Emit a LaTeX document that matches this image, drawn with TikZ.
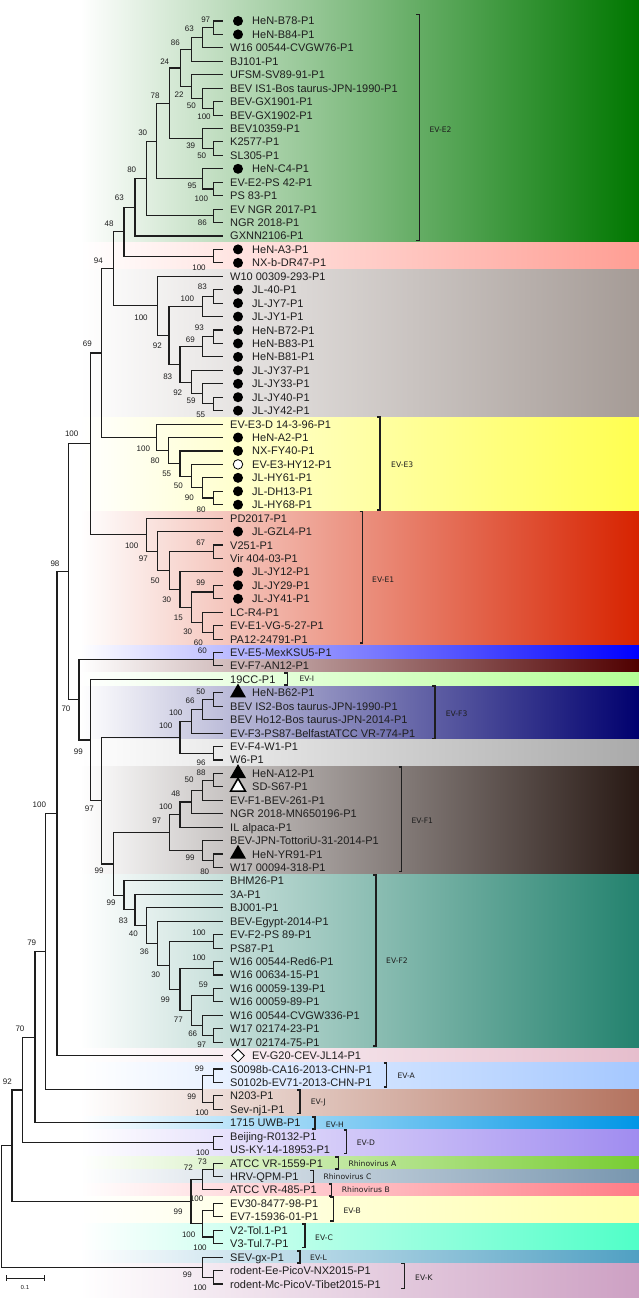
\documentclass[tikz,border=0pt]{standalone}
\usepackage{fontspec}
\setmainfont{Liberation Sans}
\newfontfamily\cladefont{DejaVu Sans}
\usetikzlibrary{calc,shapes.geometric}
\definecolor{cE2}{RGB}{0,119,0}
\definecolor{cPk}{RGB}{255,158,148}
\definecolor{cGy}{RGB}{165,155,150}
\definecolor{cYe}{RGB}{255,255,80}
\definecolor{cRd}{RGB}{215,35,0}
\definecolor{cBl}{RGB}{0,0,255}
\definecolor{cDr}{RGB}{80,0,0}
\definecolor{cLg}{RGB}{180,255,150}
\definecolor{cNv}{RGB}{0,0,110}
\definecolor{cLy}{RGB}{170,170,170}
\definecolor{cDb}{RGB}{40,25,20}
\definecolor{cTl}{RGB}{35,130,110}
\definecolor{cPp}{RGB}{230,190,205}
\definecolor{cLb}{RGB}{165,200,255}
\definecolor{cBr}{RGB}{180,115,95}
\definecolor{cSb}{RGB}{0,150,230}
\definecolor{cLv}{RGB}{160,140,240}
\definecolor{cGr}{RGB}{120,205,50}
\definecolor{cGb}{RGB}{120,150,175}
\definecolor{cRp}{RGB}{255,125,135}
\definecolor{cPy}{RGB}{255,255,170}
\definecolor{cAq}{RGB}{80,255,200}
\definecolor{cBg}{RGB}{80,160,195}
\definecolor{cMv}{RGB}{205,160,195}
\definecolor{ink}{RGB}{30,30,30}
\newcommand\tn[4]{%
  \path ($(#3)!.5!(#4)$) coordinate (m#1);
  \coordinate (#1) at (#2,0 |- m#1);
  \draw[br] (#3) -| (#1) |- (#4);}
\newcommand\leafp[2]{%
  \coordinate (t#1) at (222.3,{21+(#1-1)*13.436});
  \node[lbl] (l#1) at (230,{21+(#1-1)*13.436+4}) {#2};}
\newcommand\leafm[3]{%
  \coordinate (t#1) at (222.3,{21+(#1-1)*13.436});
  \node[#2] (k#1) at (238,{21+(#1-1)*13.436}) {};
  \node[lbl] (l#1) at (252,{21+(#1-1)*13.436+4}) {#3};}
\newcommand\band[3]{\shade[left color=white,right color=#3] (80,#1) rectangle (639,#2);}
\newcommand\brk[3]{\draw[brkt] ({#1-3},#2) -- (#1,#2) -- (#1,#3) -- ({#1-3},#3);}
\begin{document}
\begin{tikzpicture}[x=1pt,y=-1pt,
  br/.style={draw=ink,line width=1.1pt,line cap=rect},
  brkt/.style={draw=ink,line width=1.1pt},
  lbl/.style={anchor=base west,inner sep=0pt,text=ink,font=\fontsize{11}{11}\selectfont},
  bs/.style={inner sep=0pt,text=ink,font=\fontsize{8}{8}\selectfont},
  cl/.style={anchor=west,inner sep=0pt,text=ink,font=\cladefont\fontsize{7.6}{7.6}\selectfont},
  dot/.style={circle,fill=black,minimum size=10pt,inner sep=0pt},
  odot/.style={circle,draw=black,fill=white,line width=0.8pt,minimum size=9.5pt,inner sep=0pt},
  tri/.style={regular polygon,regular polygon sides=3,fill=black,minimum size=18.5pt,inner sep=0pt},
  otri/.style={regular polygon,regular polygon sides=3,draw=black,fill=white,line width=1.6pt,minimum size=17pt,inner sep=0pt},
  dia/.style={diamond,draw=black,fill=white,line width=0.8pt,minimum size=13pt,inner sep=0pt}]
\useasboundingbox (0,0) rectangle (639,1298);
\fill[white] (0,0) rectangle (639,1298);
% bands
\band{0}{242.69}{cE2}
\band{242.69}{269.56}{cPk}
\band{269.56}{417.36}{cGy}
\band{417.36}{511.41}{cYe}
\band{511.41}{645.77}{cRd}
\band{645.77}{659.20}{cBl}
\band{659.20}{672.64}{cDr}
\band{672.64}{686.08}{cLg}
\band{686.08}{739.82}{cNv}
\band{739.82}{766.70}{cLy}
\band{766.70}{874.19}{cDb}
\band{874.19}{1048.86}{cTl}
\band{1048.86}{1062.29}{cPp}
\band{1062.29}{1089.16}{cLb}
\band{1089.16}{1116.04}{cBr}
\band{1116.04}{1129.47}{cSb}
\band{1129.47}{1156.34}{cLv}
\band{1156.34}{1169.78}{cGr}
\band{1169.78}{1183.22}{cGb}
\band{1183.22}{1196.65}{cRp}
\band{1196.65}{1223.52}{cPy}
\band{1223.52}{1250.40}{cAq}
\band{1250.40}{1263.83}{cBg}
\band{1263.83}{1298}{cMv}
% leaves
\leafm{1}{dot}{HeN-B78-P1}
\leafm{2}{dot}{HeN-B84-P1}
\leafp{3}{W16 00544-CVGW76-P1}
\leafp{4}{BJ101-P1}
\leafp{5}{UFSM-SV89-91-P1}
\leafp{6}{BEV IS1-Bos taurus-JPN-1990-P1}
\leafp{7}{BEV-GX1901-P1}
\leafp{8}{BEV-GX1902-P1}
\leafp{9}{BEV10359-P1}
\leafp{10}{K2577-P1}
\leafp{11}{SL305-P1}
\leafm{12}{dot}{HeN-C4-P1}
\leafp{13}{EV-E2-PS 42-P1}
\leafp{14}{PS 83-P1}
\leafp{15}{EV NGR 2017-P1}
\leafp{16}{NGR 2018-P1}
\leafp{17}{GXNN2106-P1}
\leafm{18}{dot}{HeN-A3-P1}
\leafm{19}{dot}{NX-b-DR47-P1}
\leafp{20}{W10 00309-293-P1}
\leafm{21}{dot}{JL-40-P1}
\leafm{22}{dot}{JL-JY7-P1}
\leafm{23}{dot}{JL-JY1-P1}
\leafm{24}{dot}{HeN-B72-P1}
\leafm{25}{dot}{HeN-B83-P1}
\leafm{26}{dot}{HeN-B81-P1}
\leafm{27}{dot}{JL-JY37-P1}
\leafm{28}{dot}{JL-JY33-P1}
\leafm{29}{dot}{JL-JY40-P1}
\leafm{30}{dot}{JL-JY42-P1}
\leafp{31}{EV-E3-D 14-3-96-P1}
\leafm{32}{dot}{HeN-A2-P1}
\leafm{33}{dot}{NX-FY40-P1}
\leafm{34}{odot}{EV-E3-HY12-P1}
\leafm{35}{dot}{JL-HY61-P1}
\leafm{36}{dot}{JL-DH13-P1}
\leafm{37}{dot}{JL-HY68-P1}
\leafp{38}{PD2017-P1}
\leafm{39}{dot}{JL-GZL4-P1}
\leafp{40}{V251-P1}
\leafp{41}{Vir 404-03-P1}
\leafm{42}{dot}{JL-JY12-P1}
\leafm{43}{dot}{JL-JY29-P1}
\leafm{44}{dot}{JL-JY41-P1}
\leafp{45}{LC-R4-P1}
\leafp{46}{EV-E1-VG-5-27-P1}
\leafp{47}{PA12-24791-P1}
\leafp{48}{EV-E5-MexKSU5-P1}
\leafp{49}{EV-F7-AN12-P1}
\leafp{50}{19CC-P1}
\leafm{51}{tri}{HeN-B62-P1}
\leafp{52}{BEV IS2-Bos taurus-JPN-1990-P1}
\leafp{53}{BEV Ho12-Bos taurus-JPN-2014-P1}
\leafp{54}{EV-F3-PS87-BelfastATCC VR-774-P1}
\leafp{55}{EV-F4-W1-P1}
\leafp{56}{W6-P1}
\leafm{57}{tri}{HeN-A12-P1}
\leafm{58}{otri}{SD-S67-P1}
\leafp{59}{EV-F1-BEV-261-P1}
\leafp{60}{NGR 2018-MN650196-P1}
\leafp{61}{IL alpaca-P1}
\leafp{62}{BEV-JPN-TottoriU-31-2014-P1}
\leafm{63}{tri}{HeN-YR91-P1}
\leafp{64}{W17 00094-318-P1}
\leafp{65}{BHM26-P1}
\leafp{66}{3A-P1}
\leafp{67}{BJ001-P1}
\leafp{68}{BEV-Egypt-2014-P1}
\leafp{69}{EV-F2-PS 89-P1}
\leafp{70}{PS87-P1}
\leafp{71}{W16 00544-Red6-P1}
\leafp{72}{W16 00634-15-P1}
\leafp{73}{W16 00059-139-P1}
\leafp{74}{W16 00059-89-P1}
\leafp{75}{W16 00544-CVGW336-P1}
\leafp{76}{W17 02174-23-P1}
\leafp{77}{W17 02174-75-P1}
\leafm{78}{dia}{EV-G20-CEV-JL14-P1}
\leafp{79}{S0098b-CA16-2013-CHN-P1}
\leafp{80}{S0102b-EV71-2013-CHN-P1}
\leafp{81}{N203-P1}
\leafp{82}{Sev-nj1-P1}
\leafp{83}{1715 UWB-P1}
\leafp{84}{Beijing-R0132-P1}
\leafp{85}{US-KY-14-18953-P1}
\leafp{86}{ATCC VR-1559-P1}
\leafp{87}{HRV-QPM-P1}
\leafp{88}{ATCC VR-485-P1}
\leafp{89}{EV30-8477-98-P1}
\leafp{90}{EV7-15936-01-P1}
\leafp{91}{V2-Tol.1-P1}
\leafp{92}{V3-Tul.7-P1}
\leafp{93}{SEV-gx-P1}
\leafp{94}{rodent-Ee-PicoV-NX2015-P1}
\leafp{95}{rodent-Mc-PicoV-Tibet2015-P1}
% internal nodes
\tn{A1}{213.3}{t1}{t2}
\tn{A2}{202.7}{A1}{t3}
\tn{A3}{191.7}{A2}{t4}
\tn{B1}{213.3}{t7}{t8}
\tn{B2}{202.7}{t6}{B1}
\tn{B3}{191.7}{t5}{B2}
\tn{A4}{180.3}{A3}{B3}
\tn{C1}{213.3}{t10}{t11}
\tn{C2}{202.7}{t9}{C1}
\tn{A5}{169.3}{A4}{C2}
\tn{D1}{213.3}{t13}{t14}
\tn{D2}{202.7}{t12}{D1}
\tn{A6}{156.7}{A5}{D2}
\tn{E1}{213.3}{t15}{t16}
\tn{A7}{146.7}{A6}{E1}
\tn{A8}{135}{A7}{t17}
\tn{F1}{213.3}{t18}{t19}
\tn{A9}{124}{A8}{F1}
\tn{G1a}{213.3}{t21}{t22}
\tn{G1}{202.3}{G1a}{t23}
\tn{G2a1}{213.3}{t24}{t25}
\tn{G2a}{202.3}{G2a1}{t26}
\tn{G2b2}{213.3}{t29}{t30}
\tn{G2b1}{202.3}{t28}{G2b2}
\tn{G2b}{191.7}{t27}{G2b1}
\tn{G2}{180}{G2a}{G2b}
\tn{G3}{169}{G1}{G2}
\tn{G4}{157.3}{t20}{G3}
\tn{A10}{113.3}{A9}{G4}
\tn{N1}{213.3}{t36}{t37}
\tn{N2}{202.7}{t35}{N1}
\tn{N3}{191.7}{t34}{N2}
\tn{N4}{180}{t33}{N3}
\tn{N5}{168.3}{t32}{N4}
\tn{N6}{156.7}{t31}{N5}
\tn{A11}{101.7}{A10}{N6}
\tn{P1}{213.3}{t40}{t41}
\tn{P2}{213.3}{t43}{t44}
\tn{P4}{213.3}{t46}{t47}
\tn{P5}{202.7}{t45}{P4}
\tn{P6}{191.7}{P2}{P5}
\tn{P7}{180}{t42}{P6}
\tn{P8}{169.3}{P1}{P7}
\tn{P9}{157.3}{t39}{P8}
\tn{P10}{146.7}{t38}{P9}
\tn{A12}{90.7}{A11}{P10}
\tn{H1}{213.3}{t48}{t49}
\tn{I1}{213.3}{t51}{t52}
\tn{I2}{202.7}{I1}{t53}
\tn{I3}{191.7}{I2}{t54}
\tn{I4}{213.3}{t55}{t56}
\tn{I5}{180}{I3}{I4}
\tn{J1}{213.3}{t57}{t58}
\tn{J2}{202.7}{J1}{t59}
\tn{J3}{191.7}{J2}{t60}
\tn{J4}{180}{J3}{t61}
\tn{J5}{213.3}{t63}{t64}
\tn{J6}{202.7}{t62}{J5}
\tn{J7}{169.3}{J4}{J6}
\tn{K1}{213.3}{t69}{t70}
\tn{K2}{213.3}{t71}{t72}
\tn{K3}{213.3}{t73}{t74}
\tn{K4}{213.3}{t76}{t77}
\tn{K5}{202.7}{t75}{K4}
\tn{K6}{191.7}{K3}{K5}
\tn{K7}{180}{K2}{K6}
\tn{K8}{169.3}{K1}{K7}
\tn{K9}{157.3}{t68}{K8}
\tn{K10}{146.7}{t67}{K9}
\tn{K11}{135}{t66}{K10}
\tn{K12}{124}{t65}{K11}
\tn{A18}{113.3}{J7}{K12}
\tn{A17}{101.7}{I5}{A18}
\tn{A16}{90.7}{t50}{A17}
\tn{A15}{79}{H1}{A16}
\tn{A13}{68.3}{A12}{A15}
\tn{A14}{57}{A13}{t78}
\tn{Q1}{213.3}{t79}{t80}
\tn{Q2}{213.3}{t81}{t82}
\tn{X}{202.5}{Q1}{Q2}
\tn{A19}{45.3}{A14}{X}
\tn{A20}{35}{A19}{t83}
\tn{R1}{213.3}{t84}{t85}
\tn{A21}{22.7}{A20}{R1}
\tn{L1}{213.3}{t86}{t87}
\tn{L2}{202.3}{L1}{t88}
\tn{L3}{213.3}{t89}{t90}
\tn{L4}{213.3}{t91}{t92}
\tn{L5}{202.3}{L3}{L4}
\tn{L6}{191}{L2}{L5}
\tn{A23}{12}{A21}{L6}
\tn{M1}{213.3}{t94}{t95}
\tn{M2}{202.3}{t93}{M1}
\tn{ROOT}{1.2}{A23}{M2}
% bootstrap values
\node[bs] (b1) at (205.7,19.3) {97};
\node[bs] (b2) at (189.3,28.3) {63};
\node[bs] (b3) at (175.3,42.7) {86};
\node[bs] (b4) at (164.7,61.7) {24};
\node[bs] (b5) at (179,95) {22};
\node[bs] (b6) at (191.3,106) {50};
\node[bs] (b7) at (204,117) {100};
\node[bs] (b8) at (155,95.7) {78};
\node[bs] (b9) at (142.7,132.7) {30};
\node[bs] (b10) at (190.7,145.3) {39};
\node[bs] (b11) at (201.7,156) {50};
\node[bs] (b12) at (131.7,170) {80};
\node[bs] (b13) at (192,185.7) {95};
\node[bs] (b14) at (201.3,199) {100};
\node[bs] (b15) at (119.3,198) {63};
\node[bs] (b16) at (202.3,222.5) {86};
\node[bs] (b17) at (109,224) {48};
\node[bs] (b18) at (199,267.7) {100};
\node[bs] (b19) at (98.3,260.7) {94};
\node[bs] (b20) at (202.3,286.7) {83};
\node[bs] (b21) at (187.3,298.3) {100};
\node[bs] (b22) at (141,317.3) {100};
\node[bs] (b23) at (199.3,327.3) {93};
\node[bs] (b24) at (190.3,339.7) {69};
\node[bs] (b25) at (157.3,346) {92};
\node[bs] (b26) at (167.7,377) {83};
\node[bs] (b27) at (177.7,392.7) {92};
\node[bs] (b28) at (191,400.7) {59};
\node[bs] (b29) at (200.7,414.3) {55};
\node[bs] (b30) at (87.3,343.3) {69};
\node[bs] (b31) at (71.7,434.2) {100};
\node[bs] (b32) at (143.3,448.3) {100};
\node[bs] (b33) at (155,461) {80};
\node[bs] (b34) at (166.7,473.3) {55};
\node[bs] (b35) at (178.3,486) {50};
\node[bs] (b36) at (189.3,497.3) {90};
\node[bs] (b37) at (201,509.3) {80};
\node[bs] (b38) at (131.7,546) {100};
\node[bs] (b39) at (143.3,558.3) {97};
\node[bs] (b40) at (200.7,542.7) {67};
\node[bs] (b41) at (155,580.7) {50};
\node[bs] (b42) at (200.7,582.7) {99};
\node[bs] (b43) at (166.7,599.3) {30};
\node[bs] (b44) at (178.3,617.7) {15};
\node[bs] (b45) at (187.7,631.7) {30};
\node[bs] (b46) at (198.3,642.3) {60};
\node[bs] (b47) at (55,564) {98};
\node[bs] (b48) at (202.3,651.2) {60};
\node[bs] (b49) at (66,708.3) {70};
\node[bs] (b50) at (200.7,691.7) {50};
\node[bs] (b51) at (190,700.7) {66};
\node[bs] (b52) at (175.7,712.3) {100};
\node[bs] (b53) at (165.7,726) {100};
\node[bs] (b54) at (201,762.7) {96};
\node[bs] (b55) at (78.3,751.7) {99};
\node[bs] (b56) at (201,772.7) {88};
\node[bs] (b57) at (189,780) {50};
\node[bs] (b58) at (175.7,793.3) {48};
\node[bs] (b59) at (165.7,806.7) {100};
\node[bs] (b60) at (156.7,821) {97};
\node[bs] (b61) at (190,857.7) {99};
\node[bs] (b62) at (204.7,872) {80};
\node[bs] (b63) at (89.3,808.3) {97};
\node[bs] (b64) at (39.3,805) {100};
\node[bs] (b65) at (99,871) {99};
\node[bs] (b66) at (111,902.3) {99};
\node[bs] (b67) at (123.3,920.7) {83};
\node[bs] (b68) at (133.3,934) {40};
\node[bs] (b69) at (144.3,951.7) {36};
\node[bs] (b70) at (155.7,974.3) {30};
\node[bs] (b71) at (199,932.7) {100};
\node[bs] (b72) at (199,957.7) {100};
\node[bs] (b73) at (165.3,1000) {99};
\node[bs] (b74) at (203.3,985) {59};
\node[bs] (b75) at (178.3,1020) {77};
\node[bs] (b76) at (192.7,1033.7) {66};
\node[bs] (b77) at (201.7,1044.3) {97};
\node[bs] (b78) at (31.7,942.7) {79};
\node[bs] (b79) at (20,1028.3) {70};
\node[bs] (b80) at (7.3,1081.5) {92};
\node[bs] (b81) at (199.3,1068.7) {99};
\node[bs] (b82) at (191.7,1096.7) {99};
\node[bs] (b83) at (202,1113) {100};
\node[bs] (b84) at (202.7,1153) {100};
\node[bs] (b85) at (202.3,1161.7) {73};
\node[bs] (b86) at (188.3,1167.7) {72};
\node[bs] (b87) at (196.7,1199) {100};
\node[bs] (b88) at (178,1211.7) {99};
\node[bs] (b89) at (188.7,1234.3) {100};
\node[bs] (b90) at (200,1247.7) {100};
\node[bs] (b91) at (187.3,1274.3) {99};
\node[bs] (b92) at (200,1287.3) {100};
% clade brackets and labels
\brk{419.3}{14.7}{240.7}   \node[cl] (cE2) at (429.3,129.3) {EV-E2};
\brk{380}{417}{510}        \node[cl] (cE3) at (391,465) {EV-E3};
\brk{362.7}{511.5}{643}    \node[cl] (cE1) at (372,579.7) {EV-E1};
\brk{287.3}{673}{685}      \node[cl] (cI) at (299.3,679) {EV-I};
\brk{435}{686}{738.5}      \node[cl] (cF3) at (445.7,713.7) {EV-F3};
\brk{401.7}{767}{871.5}    \node[cl] (cF1) at (411.3,821) {EV-F1};
\brk{376}{875}{1046}       \node[cl] (cF2) at (386,961) {EV-F2};
\brk{386.7}{1063}{1087}    \node[cl] (cA) at (397.3,1076) {EV-A};
\brk{300}{1090}{1113.5}    \node[cl] (cJ) at (310.7,1102.7) {EV-J};
\brk{315}{1117}{1129}      \node[cl] (cH) at (325.7,1124.3) {EV-H};
\brk{346.7}{1130}{1153.5}  \node[cl] (cD) at (356.7,1143) {EV-D};
\brk{338.3}{1157}{1169}    \node[cl] (cRA) at (348.3,1163.7) {Rhinovirus A};
\brk{313.3}{1170.5}{1182.5} \node[cl] (cRC) at (323.3,1176.5) {Rhinovirus C};
\brk{331.7}{1184}{1196}    \node[cl] (cRB) at (341.7,1190) {Rhinovirus B};
\brk{333.3}{1197}{1221}    \node[cl] (cB) at (343.3,1211) {EV-B};
\brk{305}{1224}{1247.5}    \node[cl] (cC) at (315,1237.7) {EV-C};
\brk{300}{1251}{1263}      \node[cl] (cL) at (310,1257.7) {EV-L};
\brk{404.3}{1263.5}{1288.5} \node[cl] (cK) at (415,1277.5) {EV-K};
% scale bar
\coordinate (s1) at (6,1278.3);
\coordinate (s2) at (44.3,1278.3);
\draw[brkt,line width=0.9pt] (s1) -- (s2);
\draw[brkt,line width=0.9pt] ($(s1)+(0,-3)$) -- ($(s1)+(0,3)$);
\draw[brkt,line width=0.9pt] ($(s2)+(0,-3)$) -- ($(s2)+(0,3)$);
\node[bs,font=\cladefont\fontsize{5.5}{5.5}\selectfont] (scl) at (25,1287) {0.1};
\end{tikzpicture}
\end{document}
